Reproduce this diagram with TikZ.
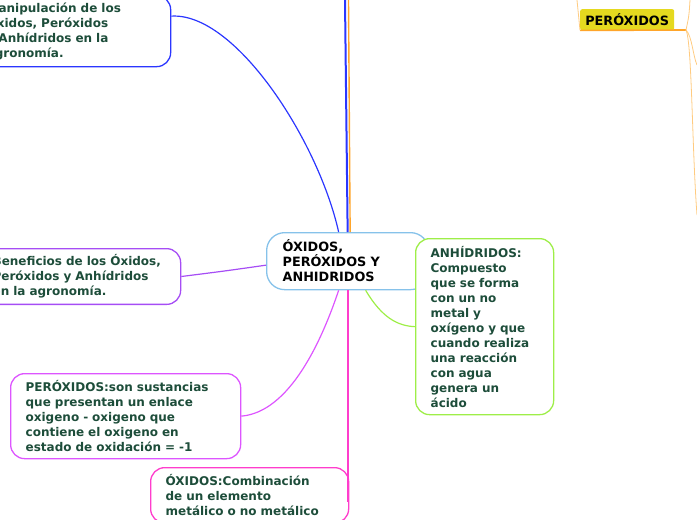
\documentclass[tikz,border=0pt]{standalone}
\usepackage{fontspec}
\setmainfont{DejaVu Sans}
\usetikzlibrary{positioning}
\definecolor{txtgreen}{HTML}{1D4D3A}
\definecolor{mapblue}{HTML}{2B36FF}
\definecolor{maporange}{HTML}{FFA52A}
\definecolor{lightorange}{HTML}{FFCB80}
\definecolor{mappurple}{HTML}{A64DF5}
\definecolor{mapviolet}{HTML}{DD55FF}
\definecolor{mappink}{HTML}{FF3DCC}
\definecolor{mapgreen}{HTML}{9EEE48}
\definecolor{centerblue}{HTML}{86C2EA}
\definecolor{labelyellow}{HTML}{E5D91F}

\begin{document}
\begin{tikzpicture}[
        x=1pt,y=-1pt,
        idea/.style={draw,rounded corners=14pt,fill=white,line width=1.3pt,
                     anchor=north west,align=left,inner xsep=15pt,inner ysep=6pt,
                     text=txtgreen,font=\fontsize{12}{15}\selectfont\bfseries},
        link/.style={line width=1.2pt},
        trunk/.style={line width=2pt},
        thin/.style={lightorange,line width=.8pt}
      ]
        \useasboundingbox (0,0) rectangle (697,520);
        \clip (0,0) rectangle (697,520);
        \node[idea,draw=centerblue,text=black,text width=130pt,minimum height=57pt,
              inner xsep=16pt,rounded corners=18pt,font=\fontsize{12.8}{15}\selectfont\bfseries]
          (central) at (266,232) {ÓXIDOS,\\PERÓXIDOS Y\\ANHIDRIDOS};
        \node[idea,draw=mapblue,text width=169pt,minimum height=71pt] (manip) at (-29,-5)
          {Manipulación de los\\Óxidos, Peróxidos\\y Anhídridos en la\\agronomía.};
        \node[idea,draw=mappurple,text width=173pt,minimum height=54pt] (benef) at (-23,248)
          {Beneficios de los Óxidos,\\Peróxidos y Anhídridos\\en la agronomía.};
        \node[idea,draw=mapviolet,text width=200pt,minimum height=85pt] (perox) at (10,373)
          {PERÓXIDOS:son sustancias\\que presentan un enlace\\oxigeno - oxigeno que\\contiene el oxigeno en\\estado de oxidación = -1};
        \node[idea,draw=mappink,text width=168pt,inner ysep=7pt] (oxid) at (150,467)
          {ÓXIDOS:Combinación\\de un elemento\\metálico o no metálico};
        \node[idea,draw=mapgreen,text width=108pt,minimum height=176pt] (anhid) at (415,238)
          {ANHÍDRIDOS:\\Compuesto\\que se forma\\con un no\\metal y\\oxígeno y que\\cuando realiza\\una reacción\\con agua\\genera un\\ácido};
        \node[fill=labelyellow,rounded corners=2pt,anchor=north west,inner sep=0pt,
              minimum width=94pt,minimum height=21pt,font=\fontsize{12.8}{14}\selectfont\bfseries]
          (peroxlbl) at (580,9) {PERÓXIDOS};
        \coordinate (topblue) at (345,0);
        \coordinate (toporange) at (348.5,0);
        \coordinate (forkR) at (686,30);
        \draw[link,mapblue] ([yshift=15pt]manip.east) .. controls (235,12) and (318,140) .. ([xshift=-9pt]central.north);
        \draw[trunk,mapblue] (topblue) -- (central.north);
        \draw[trunk,maporange,line width=1.4pt] (toporange) -- ([xshift=2.5pt]central.north);
        \draw[link,mappurple] (benef.east) .. controls (225,271) .. ([yshift=-4pt]central.west);
        \draw[link,mapviolet] (perox.east) .. controls (290,412) and (322,340) .. ([xshift=-9pt]central.south);
        \draw[trunk,mappink] (central.south) -- ([yshift=-7pt]oxid.east -| central.south);
        \draw[link,mapgreen] ([xshift=18pt]central.south) .. controls (382,318) and (398,326) .. (anhid.west);
        \draw[maporange,line width=1.6pt] (peroxlbl.south west) -- (forkR);
        \draw[thin] (peroxlbl.south west) .. controls (579,16) .. (577,0);
        \draw[thin] (forkR) .. controls (689,16) .. (690,0);
        \draw[thin] (forkR) .. controls (692,36) and (693,56) .. (697,65);
        \draw[thin] (forkR) .. controls (692,42) and (692,150) .. (697,215);
      \end{tikzpicture}
\end{document}
